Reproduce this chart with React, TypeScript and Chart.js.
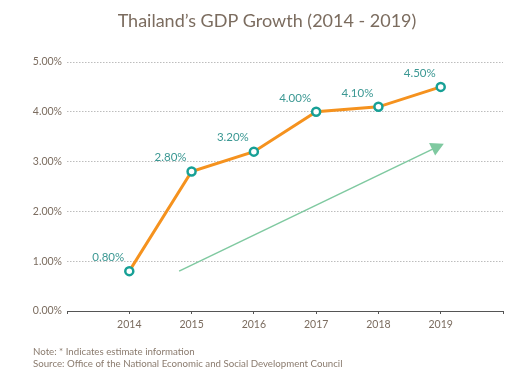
import React, { useEffect, useRef } from "react";
import { Chart, registerables } from "chart.js";

Chart.register(...registerables);

const years = [2014, 2015, 2016, 2017, 2018, 2019];
const gdpGrowth = [0.8, 2.8, 3.2, 4.0, 4.1, 4.5];
const yTicks = [0, 1, 2, 3, 4, 5];
const titleText = "Thailand\u2019s GDP Growth (2014 - 2019)";
const noteLines = [
  "Note: * Indicates estimate information",
  "Source: Office of the National Economic and Social Development Council",
];
// decorative trend arrow (x in years, y in %)
const arrowStart = [2014.8, 0.8];
const arrowEnd = [2019.05, 3.36];

const FONT = "Lato, 'Noto Sans', sans-serif";
const TEXT_COLOR = "#7b6c5f";
const TEAL = "#17a096";
const LABEL_TEAL = "#3b9893";
const ORANGE = "#f5921e";
const ARROW_GREEN = "#7fc9a0";

const decorPlugin = {
  id: "decor",
  beforeDatasetsDraw(chart: any) {
    const { ctx, scales } = chart;
    const x = scales.x;
    const y = scales.y;
    const x1 = x.getPixelForValue(arrowStart[0]);
    const y1 = y.getPixelForValue(arrowStart[1]);
    const x2 = x.getPixelForValue(arrowEnd[0]);
    const y2 = y.getPixelForValue(arrowEnd[1]);
    const ang = Math.atan2(y2 - y1, x2 - x1);
    const head = 13;
    const half = 7;
    ctx.save();
    ctx.strokeStyle = ARROW_GREEN;
    ctx.fillStyle = ARROW_GREEN;
    ctx.lineWidth = 1.5;
    ctx.beginPath();
    ctx.moveTo(x1, y1);
    ctx.lineTo(x2 - Math.cos(ang) * head * 0.6, y2 - Math.sin(ang) * head * 0.6);
    ctx.stroke();
    const bx = x2 - Math.cos(ang) * head;
    const by = y2 - Math.sin(ang) * head;
    ctx.beginPath();
    ctx.moveTo(x2, y2);
    ctx.lineTo(bx + Math.sin(ang) * half, by - Math.cos(ang) * half);
    ctx.lineTo(bx - Math.sin(ang) * half, by + Math.cos(ang) * half);
    ctx.closePath();
    ctx.fill();
    ctx.restore();
  },
  afterDraw(chart: any) {
    const { ctx } = chart;
    ctx.save();
    // title
    ctx.fillStyle = TEXT_COLOR;
    ctx.font = `18px ${FONT}`;
    ctx.textAlign = "center";
    ctx.textBaseline = "middle";
    ctx.fillText(titleText, 267, 21);
    // notes
    ctx.font = `9.7px ${FONT}`;
    ctx.textAlign = "left";
    ctx.fillStyle = "#8a7b6e";
    ctx.fillText(noteLines[0], 33, 352);
    ctx.fillText(noteLines[1], 33, 364);
    // data labels
    const meta = chart.getDatasetMeta(0);
    ctx.font = `11.5px ${FONT}`;
    ctx.fillStyle = LABEL_TEAL;
    ctx.textAlign = "center";
    meta.data.forEach((pt: any, i: number) => {
      ctx.fillText(gdpGrowth[i].toFixed(2) + "%", pt.x - 21, pt.y - 14);
    });
    ctx.restore();
  },
};

export default function App() {
  const ref = useRef<HTMLCanvasElement>(null);
  useEffect(() => {
    if (!ref.current) return;
    const chart = new Chart(ref.current, {
      type: "line",
      data: {
        datasets: [
          {
            data: years.map((yr, i) => ({ x: yr, y: gdpGrowth[i] })),
            borderColor: ORANGE,
            borderWidth: 3,
            pointRadius: 4,
            pointBorderWidth: 2.5,
            pointBackgroundColor: "#ffffff",
            pointBorderColor: TEAL,
            tension: 0,
          },
        ],
      },
      options: {
        animation: false,
        responsive: false,
        layout: { padding: { left: 0, right: 14, top: 62, bottom: 0 } },
        plugins: {
          legend: { display: false },
          title: { display: false },
          tooltip: { enabled: false },
        },
        scales: {
          x: {
            type: "linear",
            min: 2013,
            max: 2020,
            afterFit: (s: any) => {
              s.height = 69;
            },
            afterBuildTicks: (s: any) => {
              s.ticks = [2013, ...years, 2020].map((v) => ({ value: v }));
            },
            ticks: {
              callback: (v: any) => (years.includes(Number(v)) ? String(v) : ""),
              color: TEXT_COLOR,
              font: { family: FONT, size: 10.5 },
              padding: 4,
              maxRotation: 0,
              autoSkip: false,
            },
            grid: {
              display: true,
              drawOnChartArea: false,
              drawTicks: true,
              tickLength: 3,
              color: "#555555",
            },
            border: { display: true, color: "#555555", width: 1 },
          },
          y: {
            min: 0,
            max: 5,
            afterFit: (s: any) => {
              s.width = 67;
            },
            afterBuildTicks: (s: any) => {
              s.ticks = yTicks.map((v) => ({ value: v }));
            },
            ticks: {
              callback: (v: any) => Number(v).toFixed(2) + "%",
              color: TEXT_COLOR,
              font: { family: FONT, size: 10.5 },
              padding: 5,
            },
            grid: {
              drawTicks: false,
              color: "#bdbdbd",
              lineWidth: 1,
            },
            border: { display: false, dash: [1.5, 1.5] },
          },
        },
      },
      plugins: [decorPlugin],
    } as any);
    return () => chart.destroy();
  }, []);
  return (
    <div style={{ position: "fixed", left: 0, top: 0, width: 517, height: 380, background: "#fff" }}>
      <canvas ref={ref} width={517} height={380} style={{ width: 517, height: 380 }} />
    </div>
  );
}
